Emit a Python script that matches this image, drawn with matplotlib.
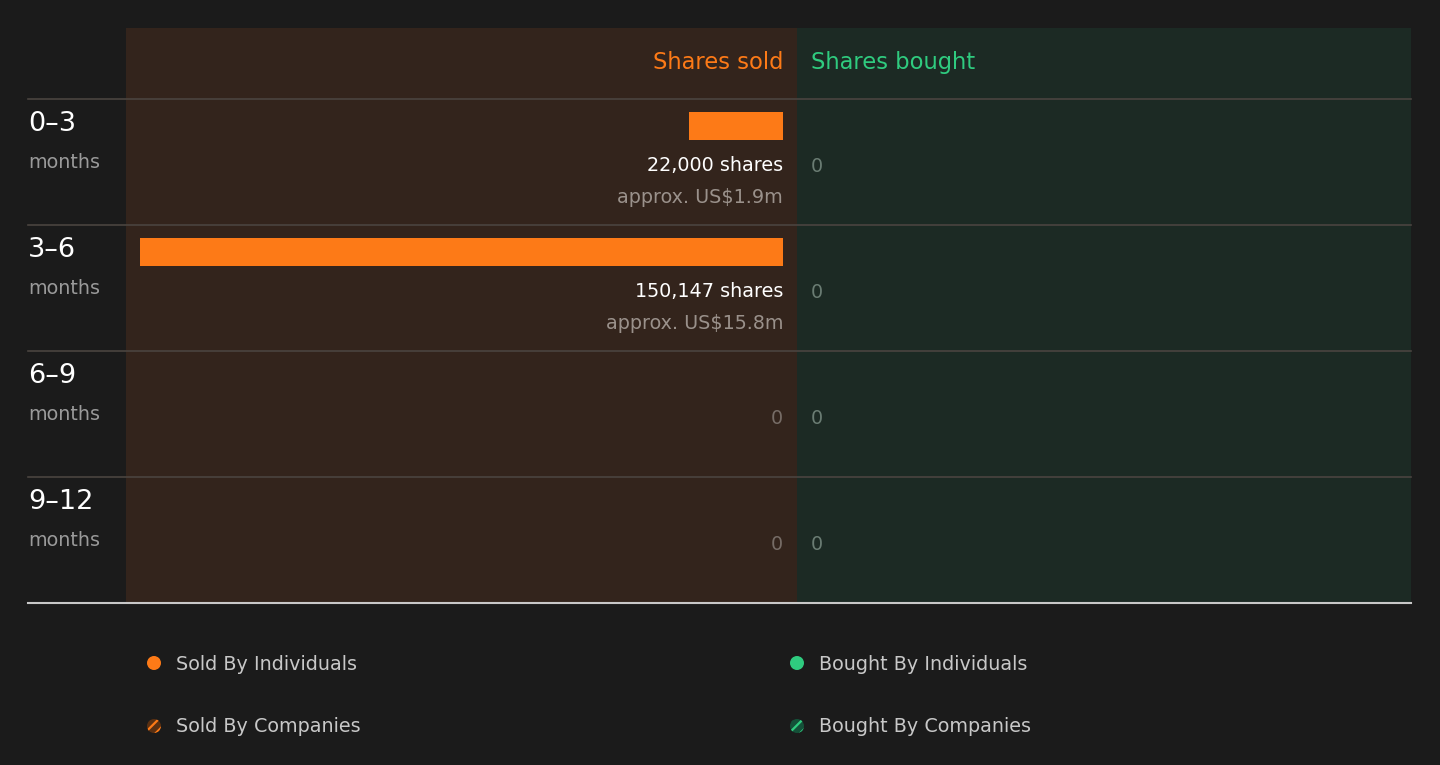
import matplotlib
matplotlib.use("Agg")
import matplotlib.pyplot as plt
from matplotlib.patches import Rectangle, Circle

# Data
#========================================#
periods = ["0–3", "3–6", "6–9", "9–12"]
sold_shares = [22000, 150147, 0, 0]
sold_value = ["approx. US$1.9m", "approx. US$15.8m", "", ""]
bought_shares = [0, 0, 0, 0]
legend_labels = ["Sold By Individuals", "Bought By Individuals",
                 "Sold By Companies", "Bought By Companies"]

# Colours
#========================================#
BG = "#1b1b1b"
SOLD_BG = "#33241c"
BOUGHT_BG = "#1c2a24"
ORANGE = "#fd7a17"
GREEN = "#2fcb7f"
DIM = ["#5a3012", "#145038"]
LINE = "#4a4440"

W, H = 1440, 765
plt.rcParams["font.family"] = ["DejaVu Sans"]
plt.rcParams["hatch.linewidth"] = 1.6
fig = plt.figure(figsize=(W / 100, H / 100), dpi=100, facecolor=BG)

# Base axes in pixel coordinates
ax = fig.add_axes([0, 0, 1, 1])
ax.set_xlim(0, W)
ax.set_ylim(H, 0)
ax.axis("off")

top, head_bot, row_h = 28, 99, 126
n = len(periods)
bottom = head_bot + row_h * n
sold_l, mid, bought_r = 126, 797, 1411

ax.add_patch(Rectangle((sold_l, top), mid - sold_l, bottom - top, color=SOLD_BG, lw=0))
ax.add_patch(Rectangle((mid, top), bought_r - mid, bottom - top, color=BOUGHT_BG, lw=0))

ax.text(783, 62, "Shares sold", color=ORANGE, fontsize=16.3, ha="right", va="center")
ax.text(811, 62, "Shares bought", color=GREEN, fontsize=16.3, ha="left", va="center")

for i, p in enumerate(periods):
    y0 = head_bot + row_h * i
    ax.plot([28, bought_r], [y0, y0], color=LINE, lw=1.2)
    ax.text(28, y0 + 25, p, color="white", fontsize=19.5, ha="left", va="center")
    ax.text(28, y0 + 63, "months", color="#9a9a9a", fontsize=13.8, ha="left", va="center")
    if sold_shares[i] > 0:
        ax.text(783, y0 + 66, f"{sold_shares[i]:,} shares", color="white",
                fontsize=13.8, ha="right", va="center")
        ax.text(783, y0 + 98, sold_value[i], color="#9a918b",
                fontsize=13.8, ha="right", va="center")
    else:
        ax.text(783, y0 + 67, "0", color="#766c66", fontsize=13.8, ha="right", va="center")
    ax.text(811, y0 + 67, f"{bought_shares[i]:,}", color="#6a7c73",
            fontsize=13.8, ha="left", va="center")

ax.plot([28, bought_r], [bottom, bottom], color="#c8c8c8", lw=1.5)

# Bars for shares sold
#========================================#
bx0, bx1 = 140, 783
axb = fig.add_axes([bx0 / W, 1 - bottom / H, (bx1 - bx0) / W, (bottom - head_bot) / H])
axb.set_facecolor("none")
axb.set_xlim(max(sold_shares), 0)
axb.set_ylim(n, 0)
axb.axis("off")
ypos = [i + 27 / row_h for i in range(n)]
axb.barh(ypos, sold_shares, height=28 / row_h, color=ORANGE, left=0)

# Legend
#========================================#
leg_x = [154, 797]
leg_y = [663, 726]
cols = [ORANGE, GREEN]
for k, lab in enumerate(legend_labels):
    c = k % 2
    r = k // 2
    cx, cy = leg_x[c], leg_y[r]
    if r == 0:
        ax.add_patch(Circle((cx, cy), 7, color=cols[c], lw=0))
    else:
        plt.rcParams["hatch.color"] = cols[c]
        ax.add_patch(Circle((cx, cy), 7, facecolor=DIM[c], edgecolor=cols[c],
                            lw=0, hatch="///"))
    ax.text(cx + 22, cy + 1, lab, color="#c8c8c8", fontsize=13.8, ha="left", va="center")

fig.savefig("out.png", dpi=100, facecolor=BG)
